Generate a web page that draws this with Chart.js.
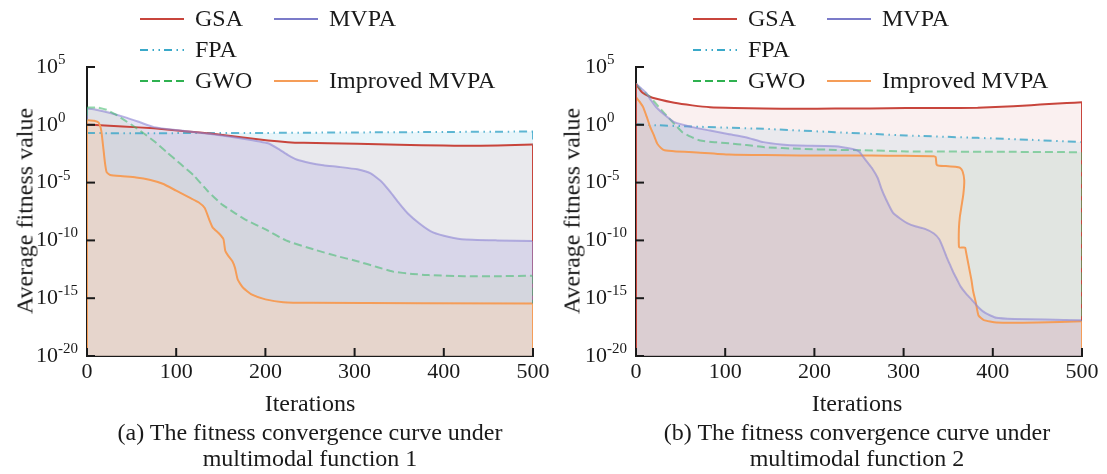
<!DOCTYPE html>
<html>
<head>
<meta charset="utf-8">
<script src="https://cdn.jsdelivr.net/npm/chart.js@4.4.1/dist/chart.umd.min.js"></script>
<style>
  body { margin: 0; background: #fff; }
  #fig { position: relative; width: 1107px; height: 474px; font-family: "Liberation Serif", "Times New Roman", serif; color: #1a1a1a; overflow: hidden; }
  .panel { position: absolute; top: 0; }
  .lbl { position: absolute; white-space: nowrap; font-size: 24px; transform: translate(-50%, -50%); }
  .ytitle { transform: translate(-50%, -50%) rotate(-90deg); }
  .cap { position: absolute; white-space: nowrap; font-size: 24px; text-align: center; line-height: 26px; transform: translateX(-50%); }
</style>
</head>
<body>
<div id="fig">
  <canvas id="chartA" class="panel" width="553" height="474" style="left:0px"></canvas>
  <canvas id="chartB" class="panel" width="554" height="474" style="left:553px"></canvas>
  <div class="lbl ytitle" style="left:25px; top:211px">Average fitness value</div>
  <div class="lbl ytitle" style="left:572px; top:211px">Average fitness value</div>
  <div class="lbl" style="left:310px; top:403px">Iterations</div>
  <div class="lbl" style="left:857px; top:403px">Iterations</div>
  <div class="cap" style="left:310px; top:419px">(a) The fitness convergence curve under<br>multimodal function 1</div>
  <div class="cap" style="left:857px; top:419px">(b) The fitness convergence curve under<br>multimodal function 2</div>
</div>
<script>
// tick labels
const xTicks = [0, 100, 200, 300, 400, 500];
const yTickExp = [5, 0, -5, -10, -15, -20];
const FLOOR = 1e-20;

// values, as log10 of the average fitness
// (a) multimodal function 1
const itA_gsa = [0,20,40,75,110,143,175,203,225,243,270,303,350,400,423,460,500];
const lgA_gsa = [0,-0.05,-0.15,-0.3,-0.55,-0.8,-1.1,-1.36,-1.5,-1.56,-1.6,-1.65,-1.72,-1.8,-1.82,-1.8,-1.7];
const itA_mvpa = [0,10,25,45,60,75,100,143,175,203,215,225,235,250,265,283,303,318,330,340,350,360,372,385,400,420,460,500];
const lgA_mvpa = [1.4,1.3,1.05,0.6,0.2,-0.2,-0.45,-0.84,-1.2,-1.6,-2.1,-2.6,-3.0,-3.3,-3.5,-3.65,-3.85,-4.2,-4.9,-5.8,-6.8,-7.7,-8.5,-9.2,-9.6,-9.9,-10.0,-10.05];
const itA_fpa = [0,100,200,300,400,500];
const lgA_fpa = [-0.72,-0.72,-0.7,-0.66,-0.62,-0.58];
const itA_gwo = [0,12,22,32,42,52,62,75,90,105,120,135,150,165,180,199,223,255,280,303,325,343,365,383,423,460,500];
const lgA_gwo = [1.5,1.5,1.3,0.9,0.4,-0.1,-0.65,-1.4,-2.4,-3.4,-4.4,-5.7,-6.8,-7.6,-8.3,-9.0,-10.0,-10.8,-11.35,-11.8,-12.3,-12.7,-12.9,-13.0,-13.1,-13.1,-13.05];
const itA_imp = [0,8,13,16,18,20,22,26,40,55,70,85,100,115,125,132,137,141,148,153,155,158,163,166,169,175,185,200,220,250,500];
const lgA_imp = [0.4,0.35,0.2,-0.5,-1.8,-3.2,-4.1,-4.35,-4.45,-4.55,-4.75,-5.1,-5.7,-6.3,-6.7,-7.2,-8.2,-8.9,-9.4,-9.9,-10.9,-11.3,-11.8,-12.4,-13.4,-14.1,-14.7,-15.1,-15.35,-15.4,-15.45];

// (b) multimodal function 2
const itB_gsa = [0,3,7,15,23,43,63,83,110,143,183,223,263,303,343,383,423,443,463,483,500];
const lgB_gsa = [3.55,3.2,2.8,2.45,2.25,1.9,1.68,1.52,1.45,1.4,1.38,1.4,1.42,1.45,1.46,1.47,1.6,1.7,1.8,1.88,1.95];
const itB_mvpa = [0,5,11,17,23,33,43,63,83,103,123,143,163,183,223,243,250,255,260,265,271,275,280,288,296,304,314,324,334,340,344,348,352,356,360,364,370,376,384,392,404,424,460,500];
const lgB_mvpa = [3.55,3.2,2.8,2.1,1.5,0.8,0.23,-0.2,-0.5,-0.8,-1.07,-1.5,-1.7,-1.8,-1.85,-2.1,-2.3,-2.8,-3.3,-3.8,-4.6,-5.5,-6.4,-7.6,-8.1,-8.5,-8.8,-9.0,-9.4,-9.9,-10.6,-11.4,-12.1,-12.8,-13.4,-14.0,-14.6,-15.1,-15.8,-16.3,-16.7,-16.8,-16.85,-16.9];
const itB_fpa = [0,10,63,143,223,303,383,443,500];
const lgB_fpa = [0.05,0.0,-0.15,-0.35,-0.64,-0.92,-1.13,-1.3,-1.5];
const itB_gwo = [0,5,10,16,26,36,44,52,62,72,88,104,124,144,184,224,256,304,400,500];
const lgB_gwo = [3.55,3.1,2.8,2.4,1.5,0.66,0.0,-0.64,-1.05,-1.36,-1.5,-1.6,-1.75,-1.94,-2.08,-2.17,-2.2,-2.3,-2.33,-2.37];
const itB_imp = [0,4,8,12,16,20,24,28,32,45,64,104,144,184,224,264,300,334,336,337,340,350,358,363,366,368,367,365,363,362,362,363,366,369,370,372,374,376,378,381,384,390,404,450,500];
const lgB_imp = [2.4,2.0,1.53,0.7,-0.2,-0.9,-1.65,-2.0,-2.2,-2.3,-2.37,-2.57,-2.62,-2.66,-2.66,-2.66,-2.68,-2.72,-2.8,-3.45,-3.55,-3.58,-3.62,-3.7,-4.0,-4.8,-6.0,-7.0,-8.0,-9.0,-10.5,-10.62,-10.62,-10.62,-11.0,-11.8,-12.6,-13.4,-14.4,-15.4,-16.5,-16.9,-17.1,-17.1,-17.0];

function curve(iters, logs) {
    return iters.map((it, i) => ({ x: it, y: Math.pow(10, logs[i]) }));
}

const styles = {
    'GSA':           { line: '#c8453c', fill: 'rgba(235,195,195,0.25)', legend: '#c8453c', dash: [] },
    'MVPA':          { line: 'rgba(140,132,212,0.6)', fill: 'rgba(176,168,222,0.3)', legend: '#7b7bc9', dash: [] },
    'FPA':           { line: 'rgba(55,165,200,0.8)', fill: 'rgba(178,222,238,0.3)', legend: '#3aa9c9', dash: [8, 4.5, 1.5, 4.5, 1.5, 4] },
    'GWO':           { line: 'rgba(60,185,105,0.55)', fill: 'rgba(195,215,180,0.22)', legend: '#2fb150', dash: [8, 4] },
    'Improved MVPA': { line: '#f59d58', fill: 'rgba(255,212,178,0.42)', legend: '#f59d58', dash: [] }
};

function ds(label, data, order) {
    const s = styles[label];
    return {
        label: label,
        data: data,
        order: order,
        borderColor: s.line,
        backgroundColor: s.fill,
        borderDash: s.dash,
        borderWidth: 2,
        pointRadius: 0,
        tension: 0.15,
        fill: 'start'
    };
}

const legendRows = [['GSA', 'MVPA'], ['FPA', null], ['GWO', 'Improved MVPA']];

// the area outlines run down to the floor of the axis at the first and last iteration
const edges = {
    id: 'edges',
    afterDatasetsDraw(chart, args, opts) {
        const ctx = chart.ctx, a = chart.chartArea;
        const metas = chart.getSortedVisibleDatasetMetas().slice().reverse();
        ctx.save();
        ctx.beginPath();
        ctx.rect(a.left, a.top, a.right - a.left, a.bottom - a.top);
        ctx.clip();
        ctx.lineWidth = 2;
        [0, 1].forEach(side => {
            const topLabel = side === 0 ? opts.firstTop : opts.lastTop;
            const list = metas.filter(m => chart.data.datasets[m.index].label !== topLabel)
                .concat(metas.filter(m => chart.data.datasets[m.index].label === topLabel));
            list.forEach(meta => {
                const d = chart.data.datasets[meta.index];
                const p = side === 0 ? meta.data[0] : meta.data[meta.data.length - 1];
                ctx.strokeStyle = d.borderColor;
                ctx.setLineDash(d.borderDash || []);
                ctx.beginPath(); ctx.moveTo(p.x, p.y); ctx.lineTo(p.x, a.bottom); ctx.stroke();
            });
        });
        ctx.restore();
    }
};

const decor = {
    id: 'decor',
    afterDraw(chart) {
        const ctx = chart.ctx, xs = chart.scales.x, ys = chart.scales.y, a = chart.chartArea;
        ctx.save();
        ctx.strokeStyle = '#1a1a1a';
        ctx.fillStyle = '#1a1a1a';
        ctx.lineWidth = 2;
        ctx.textBaseline = 'middle';
        ctx.setLineDash([]);

        ctx.font = '22px "Liberation Serif"';
        ctx.textAlign = 'center';
        xTicks.forEach(v => {
            const px = xs.getPixelForValue(v);
            ctx.beginPath(); ctx.moveTo(px, a.bottom); ctx.lineTo(px, a.bottom - 8); ctx.stroke();
            ctx.fillText(String(v), px, a.bottom + 16);
        });

        ctx.textAlign = 'left';
        yTickExp.forEach(e => {
            const py = ys.getPixelForValue(Math.pow(10, e));
            ctx.beginPath(); ctx.moveTo(a.left, py); ctx.lineTo(a.left + 8, py); ctx.stroke();
            const lx = a.left - 51;
            ctx.font = '22px "Liberation Serif"';
            ctx.fillText('10', lx, py);
            const w = ctx.measureText('10').width;
            ctx.font = '15px "Liberation Serif"';
            ctx.fillText(String(e), lx + w, py - 7);
        });

        // legend in two columns
        ctx.font = '24px "Liberation Serif"';
        ctx.lineWidth = 2;
        const colX = [140, 274];
        const rowY = [19, 50, 81];
        legendRows.forEach((row, r) => {
            row.forEach((label, c) => {
                if (!label) return;
                const s = styles[label];
                const x0 = colX[c], y0 = rowY[r];
                ctx.strokeStyle = s.legend;
                ctx.setLineDash(s.dash);
                ctx.beginPath(); ctx.moveTo(x0, y0); ctx.lineTo(x0 + 44, y0); ctx.stroke();
                ctx.setLineDash([]);
                ctx.fillStyle = '#1a1a1a';
                ctx.fillText(label, x0 + 55, y0 + 1);
            });
        });
        ctx.restore();
    }
};

function makeChart(id, datasets, padLeft, padRight, firstTop) {
    return new Chart(document.getElementById(id), {
        type: 'line',
        data: { datasets: datasets },
        options: {
            responsive: false,
            animation: false,
            events: [],
            layout: { padding: { left: padLeft, right: padRight, top: 67, bottom: 118 } },
            plugins: {
                legend: { display: false },
                tooltip: { enabled: false },
                filler: { drawTime: 'beforeDatasetsDraw' },
                edges: { firstTop: firstTop, lastTop: 'Improved MVPA' }
            },
            scales: {
                x: {
                    type: 'linear', min: 0, max: 500,
                    ticks: { display: false },
                    grid: { display: false, drawTicks: false },
                    border: { display: true, color: '#1a1a1a', width: 2 },
                    afterFit: s => { s.height = 0; }
                },
                y: {
                    type: 'logarithmic', min: FLOOR, max: 1e5,
                    ticks: { display: false },
                    grid: { display: false, drawTicks: false },
                    border: { display: true, color: '#1a1a1a', width: 2 },
                    afterFit: s => { s.width = 0; }
                }
            }
        },
        plugins: [edges, decor]
    });
}

makeChart('chartA', [
    ds('GSA', curve(itA_gsa, lgA_gsa), 3),
    ds('MVPA', curve(itA_mvpa, lgA_mvpa), 2),
    ds('FPA', curve(itA_fpa, lgA_fpa), 4),
    ds('GWO', curve(itA_gwo, lgA_gwo), 1),
    ds('Improved MVPA', curve(itA_imp, lgA_imp), 0)
], 87, 20, 'Improved MVPA');

makeChart('chartB', [
    ds('GSA', curve(itB_gsa, lgB_gsa), 3),
    ds('MVPA', curve(itB_mvpa, lgB_mvpa), 0),
    ds('FPA', curve(itB_fpa, lgB_fpa), 4),
    ds('GWO', curve(itB_gwo, lgB_gwo), 2),
    ds('Improved MVPA', curve(itB_imp, lgB_imp), 1)
], 83, 25, 'GSA');
</script>
</body>
</html>
